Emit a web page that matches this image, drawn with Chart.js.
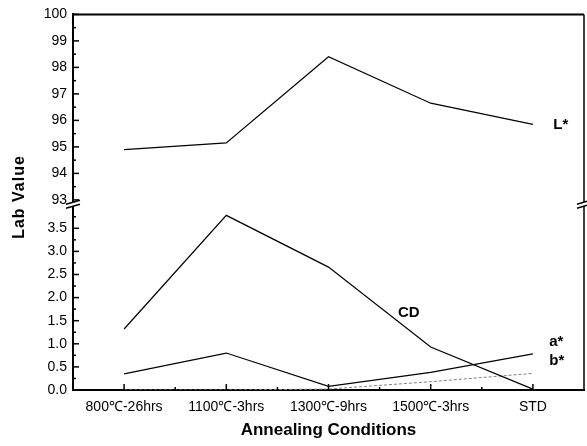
<!DOCTYPE html>
<html>
<head>
<meta charset="utf-8">
<script src="https://cdn.jsdelivr.net/npm/chart.js@4.4.1/dist/chart.umd.min.js"></script>
<style>
    body { margin: 0; background: #fff; }
    #wrap { width: 587px; height: 446px; }
</style>
</head>
<body>
<div id="wrap"><canvas id="labChart"></canvas></div>
<script>
// data
const categories = ['800℃-26hrs', '1100℃-3hrs', '1300℃-9hrs', '1500℃-3hrs', 'STD'];
const lStar = [94.9, 95.15, 98.4, 96.65, 95.85];
const cd = [1.32, 3.78, 2.66, 0.93, 0.02];
const aStar = [0.35, 0.80, 0.08, 0.38, 0.78];
const bStar = [0.0, 0.0, 0.02, 0.18, 0.36];

// tick values of the two parts of the broken axis
const topTicks = [93, 93.5, 94, 94.5, 95, 95.5, 96, 96.5, 97, 97.5, 98, 98.5, 99, 99.5, 100];
const botTicks = [0, 0.25, 0.5, 0.75, 1, 1.25, 1.5, 1.75, 2, 2.25, 2.5, 2.75, 3, 3.25, 3.5, 3.75];

// where the curve names sit (category index, value on the axis)
const curveNames = [
    { text: 'L*', x: 4.2, y: 95.85, axis: 'yTop' },
    { text: 'CD', x: 2.68, y: 1.68, axis: 'yBot' },
    { text: 'a*', x: 4.16, y: 1.04, axis: 'yBot' },
    { text: 'b*', x: 4.16, y: 0.63, axis: 'yBot' }
];

const FONT = '"Liberation Sans", Arial, sans-serif';

function isWhole(v, step) {
    const r = v / step;
    return Math.abs(r - Math.round(r)) < 1e-6;
}

// frame, inward ticks, axis breaks, curve names and y title
const decorations = {
    id: 'decorations',
    afterDraw(chart) {
        const ctx = chart.ctx;
        const area = chart.chartArea;
        const x = chart.scales.x;
        const yTop = chart.scales.yTop;
        const yBot = chart.scales.yBot;
        ctx.save();
        ctx.strokeStyle = '#000';

        // top and right border
        ctx.lineWidth = 2;
        ctx.beginPath();
        ctx.moveTo(area.left, area.top);
        ctx.lineTo(area.right, area.top);
        ctx.stroke();
        ctx.lineWidth = 1.5;
        ctx.beginPath();
        ctx.moveTo(area.right, area.top);
        ctx.lineTo(area.right, area.bottom);
        ctx.stroke();

        // y ticks pointing inward
        ctx.lineWidth = 1.5;
        yTop.ticks.forEach(t => {
            const py = yTop.getPixelForValue(t.value);
            const len = isWhole(t.value, 1) ? 6 : 3;
            ctx.beginPath();
            ctx.moveTo(area.left, py);
            ctx.lineTo(area.left + len, py);
            ctx.stroke();
        });
        yBot.ticks.forEach(t => {
            const py = yBot.getPixelForValue(t.value);
            const len = isWhole(t.value, 0.5) ? 6 : 3;
            ctx.beginPath();
            ctx.moveTo(area.left, py);
            ctx.lineTo(area.left + len, py);
            ctx.stroke();
        });

        // x ticks pointing inward: majors at categories, minors between
        for (let i = 0; i < categories.length; i++) {
            const px = x.getPixelForValue(i);
            ctx.beginPath();
            ctx.moveTo(px, area.bottom);
            ctx.lineTo(px, area.bottom - 6);
            ctx.stroke();
            if (i < categories.length - 1) {
                const mx = (px + x.getPixelForValue(i + 1)) / 2;
                ctx.beginPath();
                ctx.moveTo(mx, area.bottom);
                ctx.lineTo(mx, area.bottom - 3);
                ctx.stroke();
            }
        }

        // axis break marks
        const by = yBot.top;
        [area.left, area.right].forEach(bx => {
            ctx.fillStyle = '#fff';
            ctx.beginPath();
            ctx.moveTo(bx - 7, by - 1);
            ctx.lineTo(bx + 7, by - 5);
            ctx.lineTo(bx + 7, by - 1);
            ctx.lineTo(bx - 7, by + 3);
            ctx.closePath();
            ctx.fill();
            ctx.lineWidth = 1.5;
            ctx.beginPath();
            ctx.moveTo(bx - 7, by - 1);
            ctx.lineTo(bx + 7, by - 5);
            ctx.moveTo(bx - 7, by + 3);
            ctx.lineTo(bx + 7, by - 1);
            ctx.stroke();
        });

        // curve names
        ctx.fillStyle = '#000';
        ctx.font = 'bold 15px ' + FONT;
        ctx.textBaseline = 'middle';
        ctx.textAlign = 'left';
        curveNames.forEach(n => {
            const i = Math.floor(n.x);
            const f = n.x - i;
            const p0 = x.getPixelForValue(i);
            const p1 = x.getPixelForValue(i + 1);
            const px = p0 + (p1 - p0) * f;
            const py = chart.scales[n.axis].getPixelForValue(n.y);
            ctx.fillText(n.text, px, py);
        });

        // y title
        ctx.font = 'bold 16px ' + FONT;
        ctx.letterSpacing = '1px';
        ctx.textAlign = 'center';
        ctx.translate(20, 197);
        ctx.rotate(-Math.PI / 2);
        ctx.fillText('Lab Value', 0, 0);
        ctx.restore();
    }
};

document.addEventListener('DOMContentLoaded', () => {
    const ctx = document.getElementById('labChart').getContext('2d');
    const lineStyle = {
        borderColor: '#000',
        borderWidth: 1.2,
        pointRadius: 0,
        fill: false,
        tension: 0
    };

    new Chart(ctx, {
        type: 'line',
        data: {
            labels: categories,
            datasets: [
                { label: 'L*', data: lStar, yAxisID: 'yTop', ...lineStyle },
                { label: 'CD', data: cd, yAxisID: 'yBot', ...lineStyle },
                { label: 'a*', data: aStar, yAxisID: 'yBot', ...lineStyle },
                { label: 'b*', data: bStar, yAxisID: 'yBot', ...lineStyle,
                  borderColor: '#808080', borderWidth: 1, borderDash: [3, 2] }
            ]
        },
        options: {
            responsive: true,
            maintainAspectRatio: false,
            animation: false,
            events: [],
            layout: { padding: { left: 0, right: 3, top: 14, bottom: 0 } },
            plugins: {
                legend: { display: false },
                tooltip: { enabled: false }
            },
            scales: {
                x: {
                    type: 'category',
                    offset: true,
                    grid: { display: false, drawTicks: false },
                    border: { display: true, color: '#000', width: 2 },
                    ticks: {
                        color: '#000',
                        font: { family: FONT, size: 14 },
                        padding: 9,
                        maxRotation: 0,
                        autoSkip: false
                    },
                    title: {
                        display: true,
                        text: 'Annealing Conditions',
                        color: '#000',
                        font: { family: FONT, size: 17, weight: 'bold' },
                        padding: { top: 0, bottom: 5 }
                    },
                    afterFit(scale) { scale.height = 56; }
                },
                yBot: {
                    type: 'linear',
                    position: 'left',
                    stack: 'lab',
                    stackWeight: 185,
                    min: 0,
                    max: 4,
                    grid: { display: false, drawTicks: false },
                    border: { display: true, color: '#000', width: 2 },
                    ticks: {
                        autoSkip: false,
                        color: '#000',
                        font: { family: FONT, size: 14 },
                        padding: 6,
                        callback: v => isWhole(v, 0.5) ? v.toFixed(1) : ''
                    },
                    afterBuildTicks(scale) {
                        scale.ticks = botTicks.map(v => ({ value: v }));
                    },
                    afterFit(scale) { scale.width = 73; }
                },
                yTop: {
                    type: 'linear',
                    position: 'left',
                    stack: 'lab',
                    stackWeight: 191,
                    min: 92.8,
                    max: 100,
                    grid: { display: false, drawTicks: false },
                    border: { display: true, color: '#000', width: 2 },
                    ticks: {
                        autoSkip: false,
                        color: '#000',
                        font: { family: FONT, size: 14 },
                        padding: 6,
                        callback: v => isWhole(v, 1) ? String(Math.round(v)) : ''
                    },
                    afterBuildTicks(scale) {
                        scale.ticks = topTicks.map(v => ({ value: v }));
                    },
                    afterFit(scale) { scale.width = 73; }
                }
            }
        },
        plugins: [decorations]
    });
});
</script>
</body>
</html>
